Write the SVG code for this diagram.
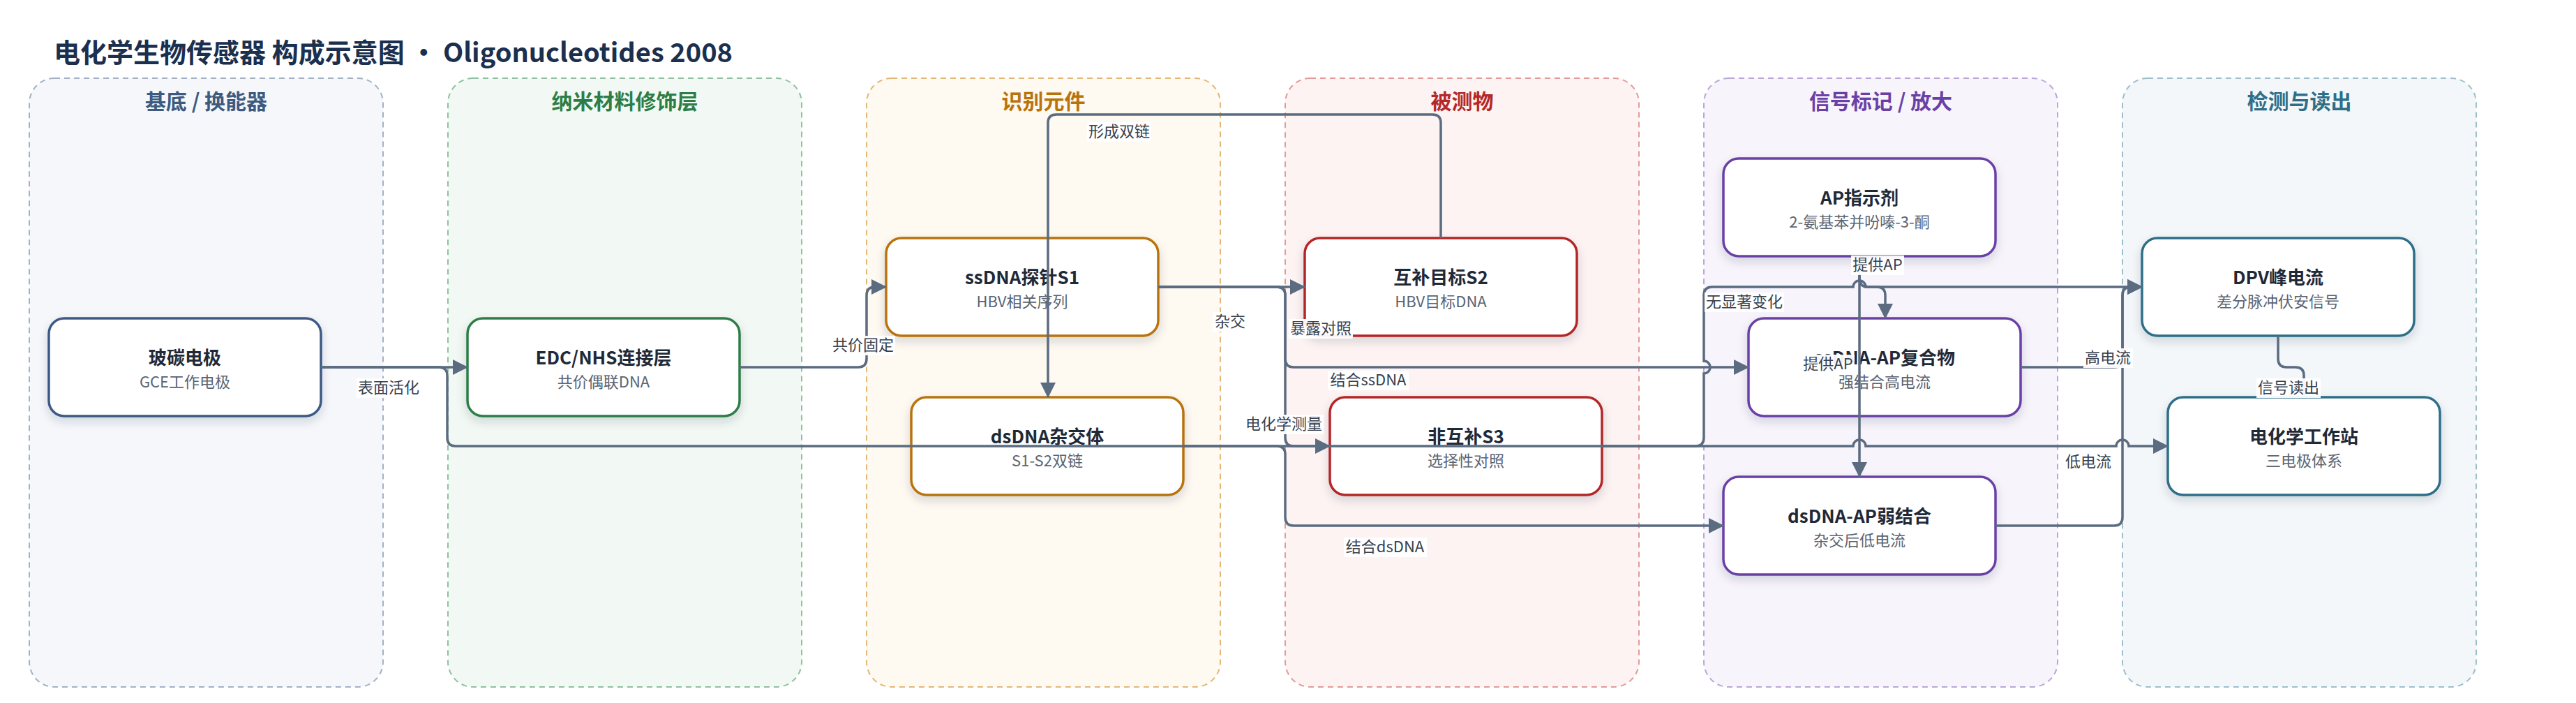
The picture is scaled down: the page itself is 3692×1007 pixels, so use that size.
<svg xmlns="http://www.w3.org/2000/svg" width="3692" height="1007" viewBox="0 0 3692 1007">
<defs>
<style>
text{font-family:"Noto Sans CJK SC","Noto Sans",sans-serif}
.title{font-size:38px;font-weight:700;fill:#1b2f4e}
.lane{stroke-width:2;stroke-dasharray:8 6}
.lt{font-size:30px;font-weight:700;text-anchor:middle}
.box{fill:#fff;stroke-width:3.5;filter:url(#sh)}
.nt{font-size:26px;font-weight:700;fill:#1f2937;text-anchor:middle}
.ns{font-size:22px;fill:#5b6472;text-anchor:middle}
.edge{fill:none;stroke:#5b6b80;stroke-width:3.5;marker-end:url(#arr)}
.lbg{fill:#fff;opacity:.94}
.lbl{font-size:22px;fill:#374151;text-anchor:middle}
</style>
<marker id="arr" viewBox="0 0 22 22" refX="21" refY="11" markerWidth="22" markerHeight="22" markerUnits="userSpaceOnUse" orient="auto"><path d="M0,0 L22,11 L0,22 z" fill="#5b6b80"/></marker>
<filter id="sh" x="-10%" y="-20%" width="120%" height="150%"><feDropShadow dx="0" dy="6" stdDeviation="7" flood-color="#1e293b" flood-opacity="0.16"/></filter>
</defs>
<rect width="3692" height="1007" fill="#fff"/>
<text class="title" x="77" y="89">电化学生物传感器 构成示意图 · Oligonucleotides 2008</text>

<g id="lanes">
<g id="lane-substrate"><rect class="lane" x="42" y="112" width="507" height="872" rx="36" fill="#f5f7fb" stroke="#a3b1c6"/><text class="lt" x="295.5" y="156" fill="#3d5a80">基底 / 换能器</text></g>
<g id="lane-nano"><rect class="lane" x="642" y="112" width="507" height="872" rx="36" fill="#f2f9f4" stroke="#8fc0a0"/><text class="lt" x="895.5" y="156" fill="#2e7d46">纳米材料修饰层</text></g>
<g id="lane-recog"><rect class="lane" x="1242" y="112" width="507" height="872" rx="36" fill="#fef9f1" stroke="#e3b877"/><text class="lt" x="1495.5" y="156" fill="#b8730a">识别元件</text></g>
<g id="lane-analyte"><rect class="lane" x="1842" y="112" width="507" height="872" rx="36" fill="#fdf3f3" stroke="#e39a9a"/><text class="lt" x="2095.5" y="156" fill="#b42828">被测物</text></g>
<g id="lane-signal"><rect class="lane" x="2442" y="112" width="507" height="872" rx="36" fill="#f7f4fb" stroke="#bba6d9"/><text class="lt" x="2695.5" y="156" fill="#6b40a6">信号标记 / 放大</text></g>
<g id="lane-detect"><rect class="lane" x="3042" y="112" width="507" height="872" rx="36" fill="#f3f7f9" stroke="#9dbfcc"/><text class="lt" x="3295.5" y="156" fill="#2f6e88">检测与读出</text></g>
</g>

<g id="nodes">
<g id="n-gce"><rect class="box" x="70" y="456" width="390" height="140" rx="22" stroke="#3d5a85"/><text class="nt" x="265" y="522">玻碳电极</text><text class="ns" x="265" y="555">GCE工作电极</text></g>
<g id="n-edc"><rect class="box" x="670" y="456" width="390" height="140" rx="22" stroke="#2e7d46"/><text class="nt" x="865" y="522">EDC/NHS连接层</text><text class="ns" x="865" y="555">共价偶联DNA</text></g>
<g id="n-s1"><rect class="box" x="1270" y="341" width="390" height="140" rx="22" stroke="#b8730a"/><text class="nt" x="1465" y="407">ssDNA探针S1</text><text class="ns" x="1465" y="440">HBV相关序列</text></g>
<g id="n-s2"><rect class="box" x="1870" y="341" width="390" height="140" rx="22" stroke="#b42828"/><text class="nt" x="2065" y="407">互补目标S2</text><text class="ns" x="2065" y="440">HBV目标DNA</text></g>
<g id="n-ds"><rect class="box" x="1306" y="569" width="390" height="140" rx="22" stroke="#b8730a"/><text class="nt" x="1501" y="635">dsDNA杂交体</text><text class="ns" x="1501" y="668">S1-S2双链</text></g>
<g id="n-s3"><rect class="box" x="1906" y="569" width="390" height="140" rx="22" stroke="#b42828"/><text class="nt" x="2101" y="635">非互补S3</text><text class="ns" x="2101" y="668">选择性对照</text></g>
<g id="n-ap"><rect class="box" x="2470" y="227" width="390" height="140" rx="22" stroke="#6b40a6"/><text class="nt" x="2665" y="293">AP指示剂</text><text class="ns" x="2665" y="326">2-氨基苯并吩嗪-3-酮</text></g>
<g id="n-ssap"><rect class="box" x="2506" y="456" width="390" height="140" rx="22" stroke="#6b40a6"/><text class="nt" x="2701" y="522">ssDNA-AP复合物</text><text class="ns" x="2701" y="555">强结合高电流</text></g>
<g id="n-dsap"><rect class="box" x="2470" y="683" width="390" height="140" rx="22" stroke="#6b40a6"/><text class="nt" x="2665" y="749">dsDNA-AP弱结合</text><text class="ns" x="2665" y="782">杂交后低电流</text></g>
<g id="n-dpv"><rect class="box" x="3070" y="341" width="390" height="140" rx="22" stroke="#2f6e88"/><text class="nt" x="3265" y="407">DPV峰电流</text><text class="ns" x="3265" y="440">差分脉冲伏安信号</text></g>
<g id="n-ws"><rect class="box" x="3107" y="569" width="390" height="140" rx="22" stroke="#2f6e88"/><text class="nt" x="3302" y="635">电化学工作站</text><text class="ns" x="3302" y="668">三电极体系</text></g>
</g>

<g id="connectors">
<path class="edge" d="M460 526 H670"/>
<path class="edge" d="M1060 526 H1230 Q1242 526 1242 514 V423 Q1242 411 1254 411 H1270"/>
<path class="edge" d="M1660 411 H1870"/>
<path class="edge" d="M2065 341 V176 Q2065 164 2053 164 H1514 Q1502 164 1502 176 V569"/>
<path class="edge" d="M1660 411 H1830 Q1842 411 1842 423 V627 Q1842 639 1854 639 H1906"/>
<path class="edge" d="M1660 411 H1830 Q1842 411 1842 423 V514 Q1842 526 1854 526 H2506"/>
<path class="edge" d="M1696 639 H1830 Q1842 639 1842 651 V741 Q1842 753 1854 753 H2470"/>
<path class="edge" d="M460 526 H629 Q641 526 641 538 V627 Q641 639 653 639 H2656 A9 9 0 0 1 2674 639 H3033 A9 9 0 0 1 3051 639 H3107"/>
<path class="edge" d="M2296 639 H2430 Q2442 639 2442 627 V535 A9 9 0 0 0 2442 517 V423 Q2442 411 2454 411 H2656 A9 9 0 0 1 2674 411 H3070"/>
<path class="edge" d="M2665 367 V399 Q2665 411 2677 411 H2690 Q2702 411 2702 423 V456"/>
<path class="edge" d="M2665 367 V683"/>
<path class="edge" d="M2896 526 H3030 Q3042 526 3042 514 V423 Q3042 411 3054 411 H3070"/>
<path class="edge" d="M2860 753 H3030 Q3042 753 3042 741 V423 Q3042 411 3054 411 H3070"/>
<path class="edge" d="M3265 481 V514 Q3265 526 3277 526 H3290 Q3302 526 3302 538 V569"/>
<g id="edge-labels">
<rect class="lbg" x="511" y="542" width="92" height="28"/><text class="lbl" x="557" y="563">表面活化</text>
<rect class="lbg" x="1191" y="481" width="92" height="28"/><text class="lbl" x="1237" y="502">共价固定</text>
<rect class="lbg" x="1558" y="175" width="92" height="28"/><text class="lbl" x="1604" y="196">形成双链</text>
<rect class="lbg" x="1738" y="447" width="50" height="28"/><text class="lbl" x="1763" y="468">杂交</text>
<rect class="lbg" x="1847" y="457" width="92" height="28"/><text class="lbl" x="1893" y="478">暴露对照</text>
<rect class="lbg" x="1903" y="531" width="116" height="28"/><text class="lbl" x="1961" y="552">结合ssDNA</text>
<rect class="lbg" x="1782" y="594" width="115" height="28"/><text class="lbl" x="1840" y="615">电化学测量</text>
<rect class="lbg" x="1926" y="770" width="119" height="28"/><text class="lbl" x="1985" y="791">结合dsDNA</text>
<rect class="lbg" x="2443" y="419" width="114" height="28"/><text class="lbl" x="2500" y="440">无显著变化</text>
<rect class="lbg" x="2653" y="366" width="76" height="28"/><text class="lbl" x="2691" y="387">提供AP</text>
<rect class="lbg" x="2582" y="508" width="76" height="28"/><text class="lbl" x="2620" y="529">提供AP</text>
<rect class="lbg" x="2986" y="499" width="71" height="28"/><text class="lbl" x="3021" y="520">高电流</text>
<rect class="lbg" x="2958" y="648" width="71" height="28"/><text class="lbl" x="2993" y="669">低电流</text>
<rect class="lbg" x="3234" y="542" width="92" height="28"/><text class="lbl" x="3280" y="563">信号读出</text>
</g>
</g>
</svg>
